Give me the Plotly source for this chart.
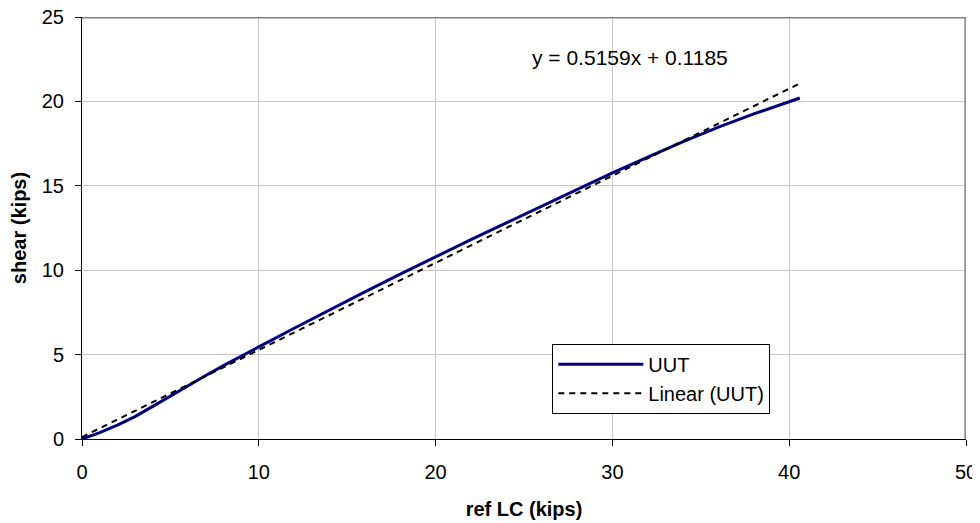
import numpy as np
import plotly.graph_objects as go

# data
ref_lc = [0, 1, 2, 3, 4, 5, 6, 7, 8, 9, 10, 12, 14, 16, 18, 20, 22, 24, 26, 28,
          30, 32, 34, 36, 38, 40, 40.6]
shear = [0, 0.38, 0.82, 1.33, 1.93, 2.55, 3.16, 3.76, 4.35, 4.92, 5.46, 6.56,
         7.65, 8.72, 9.77, 10.8, 11.81, 12.8, 13.79, 14.78, 15.77, 16.7, 17.62,
         18.48, 19.26, 19.98, 20.2]
fit_slope = 0.5159
fit_intercept = 0.1185
x_ticks = [0, 10, 20, 30, 40, 50]
y_ticks = [0, 5, 10, 15, 20, 25]

fit_x = [min(ref_lc), max(ref_lc)]
fit_y = [fit_slope * v + fit_intercept for v in fit_x]

FONT = "Liberation Sans, Arial, sans-serif"

fig = go.Figure()
fig.add_trace(go.Scatter(x=ref_lc, y=shear, mode="lines", name="UUT",
                         line=dict(color="#000080", width=3)))
fig.add_trace(go.Scatter(x=fit_x, y=fit_y, mode="lines", name="Linear (UUT)",
                         line=dict(color="black", width=2, dash="6px,5px")))

fig.add_annotation(x=31, y=22.6, xref="x", yref="y", showarrow=False,
                   text=f"y = {fit_slope}x + {fit_intercept}",
                   font=dict(family=FONT, size=21, color="black"))

# gray top and right border of the plot area
fig.add_shape(type="line", xref="paper", yref="paper", x0=0, y0=0.998, x1=1, y1=0.998,
              line=dict(color="#808080", width=1.5), layer="above")
fig.add_shape(type="line", xref="paper", yref="paper", x0=0.999, y0=0, x1=0.999, y1=1,
              line=dict(color="#808080", width=1.5), layer="above")

axis_common = dict(showgrid=True, gridcolor="#c8c8c8", gridwidth=1,
                   zeroline=False, showline=True, linecolor="black", linewidth=1,
                   ticks="outside", ticklen=6, tickcolor="black", automargin=False,
                   ticklabeloverflow="allow",
                   tickfont=dict(family=FONT, size=20, color="black"))

fig.update_xaxes(range=[0, 50], tickvals=x_ticks, ticklabelstandoff=9,
                 title=dict(text="<b>ref LC (kips)</b>", standoff=19,
                            font=dict(family=FONT, size=20, color="black")),
                 **axis_common)
fig.update_yaxes(range=[0, 25], tickvals=y_ticks, ticklabelstandoff=7,
                 title=dict(text="<b>shear (kips)</b>", standoff=14,
                            font=dict(family=FONT, size=20, color="black")),
                 **axis_common)

# the page body adds an 8px offset; margins compensate for it
fig.update_layout(
    width=980, height=523,
    margin=dict(l=74, r=22, t=9, b=92),
    paper_bgcolor="white", plot_bgcolor="white",
    showlegend=True,
    legend=dict(x=0.532, y=0.2257, xanchor="left", yanchor="top",
                bgcolor="white", bordercolor="black", borderwidth=1,
                font=dict(family=FONT, size=20, color="black"),
                tracegroupgap=0, itemwidth=85),
    font=dict(family=FONT, color="black"),
)

fig.write_html("out.html")
